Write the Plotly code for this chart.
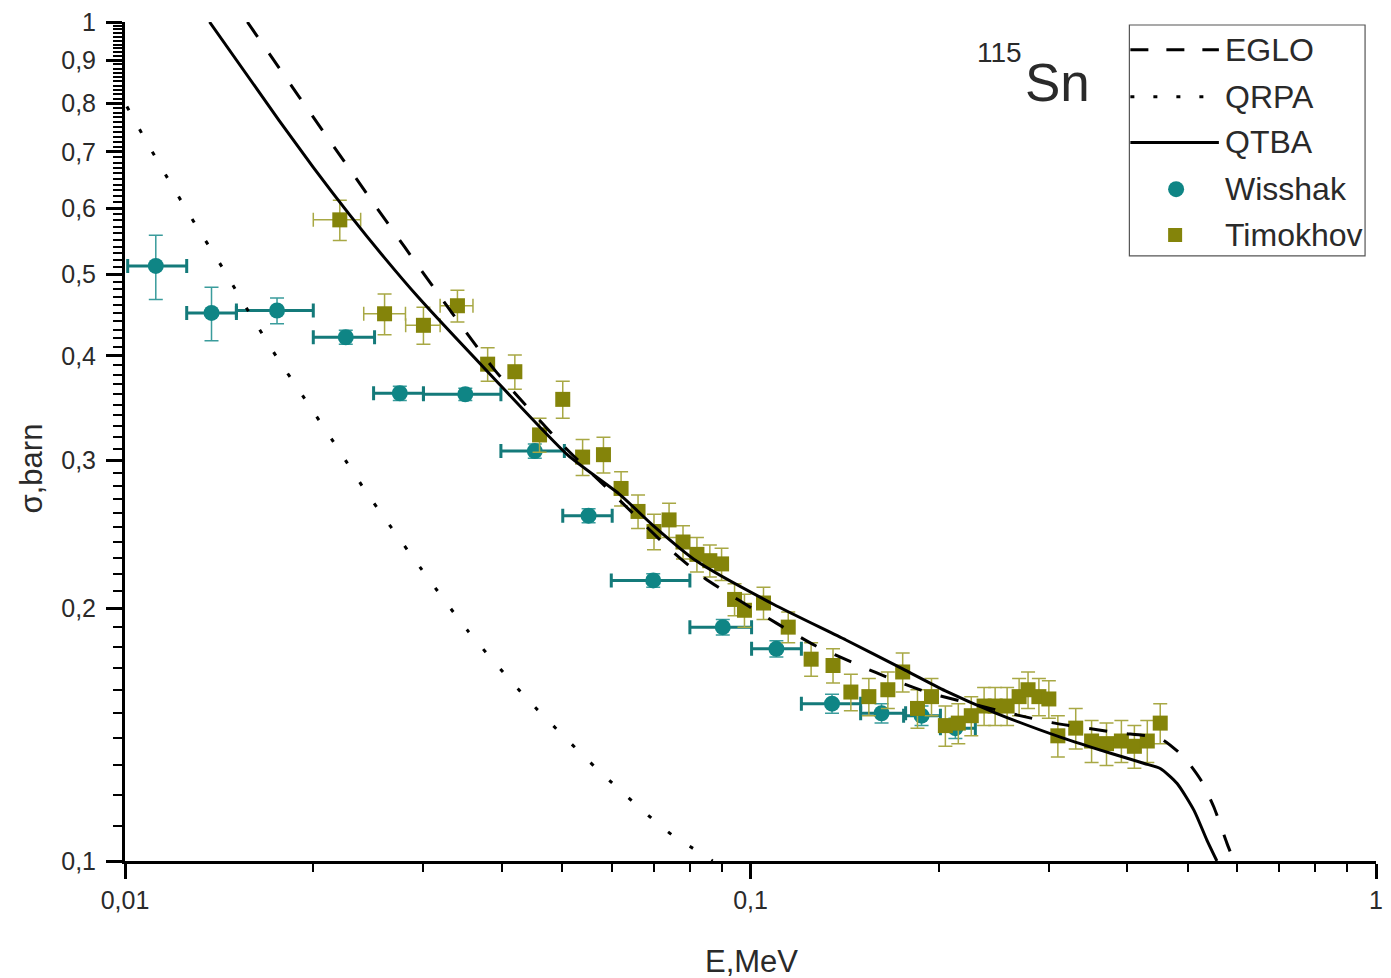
import plotly.graph_objects as go

# ---- Wisshak (energy bins with cross sections) ----
wis_E = [0.0112, 0.01375, 0.0175, 0.02254, 0.0275, 0.0350, 0.0452, 0.0551,
         0.0699, 0.0903, 0.110, 0.135, 0.162, 0.1877, 0.2126]
wis_E_lo = [0.0101, 0.01255, 0.01507, 0.0200, 0.02497, 0.0300, 0.0399, 0.0501,
            0.0599, 0.0800, 0.1004, 0.1206, 0.150, 0.1757, 0.2012]
wis_E_hi = [0.01255, 0.01507, 0.0200, 0.02506, 0.0300, 0.0399, 0.0504, 0.0601,
            0.0800, 0.1004, 0.1206, 0.150, 0.177, 0.2012, 0.2288]
wis_sig = [0.512, 0.450, 0.453, 0.421, 0.361, 0.360, 0.308, 0.258,
           0.216, 0.190, 0.179, 0.154, 0.150, 0.149, 0.144]
wis_err = [0.045, 0.033, 0.016, 0.008, 0.007, 0.006, 0.006, 0.005,
           0.004, 0.004, 0.004, 0.004, 0.004, 0.004, 0.004]

# ---- Timokhov ----
tim_E = [0.02205, 0.0260, 0.0300, 0.0340, 0.0380, 0.0420, 0.0501, 0.0460,
         0.0539, 0.0582, 0.0621, 0.0661, 0.0701, 0.0741, 0.0780, 0.0821,
         0.0861, 0.0899, 0.0943, 0.0978, 0.1049, 0.1149, 0.125, 0.1355,
         0.1447, 0.1546, 0.1658, 0.1751, 0.1849, 0.1947, 0.2049, 0.2149,
         0.2254, 0.2363, 0.2461, 0.2572, 0.2688, 0.2778, 0.2891, 0.2999,
         0.3100, 0.3311, 0.3510, 0.3708, 0.3917, 0.4109, 0.4309, 0.4519]
tim_sig = [0.581, 0.449, 0.435, 0.459, 0.391, 0.383, 0.355, 0.322,
           0.303, 0.305, 0.278, 0.261, 0.247, 0.255, 0.240, 0.232,
           0.228, 0.226, 0.205, 0.199, 0.203, 0.190, 0.174, 0.171,
           0.159, 0.157, 0.160, 0.168, 0.152, 0.157, 0.145, 0.146,
           0.149, 0.153, 0.153, 0.153, 0.157, 0.160, 0.157, 0.156,
           0.141, 0.144, 0.139, 0.138, 0.139, 0.137, 0.139, 0.146]
tim_err = [0.032, 0.025, 0.022, 0.020, 0.018, 0.018, 0.018, 0.015,
           0.015, 0.015, 0.013, 0.012, 0.012, 0.012, 0.011, 0.011,
           0.010, 0.010, 0.009, 0.009, 0.009, 0.008, 0.008, 0.008,
           0.008, 0.008, 0.008, 0.009, 0.008, 0.008, 0.008, 0.008,
           0.008, 0.008, 0.008, 0.008, 0.008, 0.008, 0.008, 0.008,
           0.008, 0.008, 0.008, 0.008, 0.008, 0.008, 0.008, 0.008]
tim_Eerr_plus = [0.00176, 0.00208, 0.0019, 0.0020] + [0.0] * 44
tim_Eerr_minus = [0.00205, 0.00192, 0.0019, 0.0021] + [0.0] * 44

# ---- model curves ----
eglo_E = [0.01569, 0.01897, 0.02515, 0.03133, 0.03904, 0.0501, 0.0612, 0.0741,
          0.0845, 0.1100, 0.1273, 0.1474, 0.1707, 0.1926, 0.2262, 0.2619,
          0.3032, 0.3861, 0.4519, 0.4933, 0.5251, 0.5507, 0.5774, 0.5927]
eglo_sig = [1.0, 0.815, 0.6034, 0.4797, 0.3844, 0.3131, 0.271, 0.2358,
            0.2173, 0.1921, 0.1804, 0.1717, 0.164, 0.1587, 0.1539, 0.1498,
            0.1462, 0.1422, 0.1400, 0.1329, 0.1248, 0.1159, 0.1051, 0.100]

qrpa_E = [0.01007, 0.01064, 0.0117, 0.01292, 0.01432, 0.0158, 0.0175, 0.01954,
          0.02181, 0.02434, 0.02901, 0.03536, 0.04405, 0.05692, 0.0701, 0.0757,
          0.0827, 0.0870]
qrpa_sig = [0.793, 0.7364, 0.6513, 0.5759, 0.5093, 0.4503, 0.3982, 0.3523,
            0.3115, 0.2748, 0.2288, 0.1879, 0.1557, 0.1286, 0.1118, 0.1068,
            0.1025, 0.100]

qtba_E = [0.01365, 0.01764, 0.0200, 0.02287, 0.0260, 0.02944, 0.0380, 0.0510,
          0.0619, 0.0696, 0.0821, 0.1088, 0.1421, 0.1751, 0.2049, 0.2461,
          0.3145, 0.3776, 0.4262, 0.4519, 0.4809, 0.5117, 0.5366, 0.5567]
qtba_sig = [1.0, 0.763, 0.671, 0.589, 0.5234, 0.4697, 0.383, 0.3048,
            0.2732, 0.2518, 0.2276, 0.2023, 0.1834, 0.1694, 0.1595, 0.1502,
            0.1403, 0.1343, 0.1307, 0.1289, 0.1237, 0.1149, 0.1059, 0.100]

# ---- axis ticks ----
x_major = [0.01, 0.1, 1]
x_major_text = ["0,01", "0,1", "1"]
x_minor = [0.02, 0.03, 0.04, 0.05, 0.06, 0.07, 0.08, 0.09,
           0.2, 0.3, 0.4, 0.5, 0.6, 0.7, 0.8, 0.9]
y_major = [0.1, 0.2, 0.3, 0.4, 0.5, 0.6, 0.7, 0.8, 0.9, 1.0]
y_major_text = ["0,1", "0,2", "0,3", "0,4", "0,5", "0,6", "0,7", "0,8", "0,9", "1"]
y_minor = [round(0.1 + 0.01 * i, 2) for i in range(1, 90) if i % 10 != 0]

TEAL = "#0f8585"
OLIVE = "#84840a"
FONT = "Liberation Sans, Arial, sans-serif"
TXT = "#2a2a2a"

fig = go.Figure()

fig.add_trace(go.Scatter(
    x=wis_E, y=wis_sig, mode="markers", name="Wisshak",
    marker=dict(symbol="circle", size=16, color=TEAL),
    error_x=dict(type="data", symmetric=False,
                 array=[h - e for h, e in zip(wis_E_hi, wis_E)],
                 arrayminus=[e - l for e, l in zip(wis_E, wis_E_lo)],
                 color="#147a7a", thickness=3, width=7),
    error_y=dict(type="data", array=wis_err, color="#3a9c9c", thickness=1.5, width=7),
))

fig.add_trace(go.Scatter(
    x=tim_E, y=tim_sig, mode="markers", name="Timokhov",
    marker=dict(symbol="square", size=15, color=OLIVE),
    error_x=dict(type="data", symmetric=False, array=tim_Eerr_plus,
                 arrayminus=tim_Eerr_minus, color="#a8a844", thickness=1.5, width=7),
    error_y=dict(type="data", array=tim_err, color="#a8a844", thickness=1.5, width=7),
))

fig.add_trace(go.Scatter(x=qrpa_E, y=qrpa_sig, mode="lines", name="QRPA",
                         line=dict(color="black", width=3, dash="4px,22px",
                                   shape="spline", smoothing=0.6)))
fig.add_trace(go.Scatter(x=eglo_E, y=eglo_sig, mode="lines", name="EGLO",
                         line=dict(color="black", width=3, dash="18px,20px",
                                   shape="spline", smoothing=0.6)))
fig.add_trace(go.Scatter(x=qtba_E, y=qtba_sig, mode="lines", name="QTBA",
                         line=dict(color="black", width=3,
                                   shape="spline", smoothing=0.6)))

W, H = 1391, 978
L, R, T, B = 125, 8, 18, 117
PW, PH = W - L - R, H - T - B


def px(xp):
    return (xp - L) / PW


def py(yp):
    return (H - B - yp) / PH


shapes = []
annotations = []

# legend frame
shapes.append(dict(type="rect", xref="paper", yref="paper",
                   x0=px(1135), x1=px(1372), y0=py(253), y1=py(21),
                   line=dict(color="#555", width=1.2), fillcolor="rgba(0,0,0,0)"))
leg_line_rows = [("EGLO", 46, "18px,18px"), ("QRPA", 93, "4px,19px"), ("QTBA", 139, "solid")]
for label, yy, dash in leg_line_rows:
    shapes.append(dict(type="line", xref="paper", yref="paper",
                       x0=px(1136), x1=px(1225), y0=py(yy), y1=py(yy),
                       line=dict(color="black", width=3, dash=dash)))
shapes.append(dict(type="circle", xref="paper", yref="paper",
                   xsizemode="pixel", ysizemode="pixel",
                   xanchor=px(1182), yanchor=py(186),
                   x0=-8, x1=8, y0=-8, y1=8,
                   fillcolor=TEAL, line=dict(width=0)))
shapes.append(dict(type="rect", xref="paper", yref="paper",
                   xsizemode="pixel", ysizemode="pixel",
                   xanchor=px(1181), yanchor=py(232),
                   x0=-7, x1=7, y0=-7, y1=7,
                   fillcolor=OLIVE, line=dict(width=0)))
for label, yy in [("EGLO", 46), ("QRPA", 93), ("QTBA", 139), ("Wisshak", 186), ("Timokhov", 232)]:
    annotations.append(dict(text=label, xref="paper", yref="paper",
                            x=px(1229), y=py(yy), xanchor="left", yanchor="middle",
                            showarrow=False, font=dict(family=FONT, size=32, color=TXT)))

# nucleus label
annotations.append(dict(text="115", xref="paper", yref="paper", x=px(980), y=py(49),
                        xanchor="left", yanchor="middle", showarrow=False,
                        font=dict(family=FONT, size=28, color=TXT)))
annotations.append(dict(text="Sn", xref="paper", yref="paper", x=px(1028), y=py(79),
                        xanchor="left", yanchor="middle", showarrow=False,
                        font=dict(family=FONT, size=53, color=TXT)))

# axis titles
annotations.append(dict(text="E,MeV", xref="paper", yref="paper", x=px(755), y=py(962),
                        xanchor="center", yanchor="middle", showarrow=False,
                        font=dict(family=FONT, size=31, color=TXT)))
annotations.append(dict(text="σ,barn", xref="paper", yref="paper", x=px(31), y=py(467),
                        xanchor="center", yanchor="middle", showarrow=False, textangle=-90,
                        font=dict(family=FONT, size=31, color=TXT)))

fig.update_layout(
    width=W, height=H,
    margin=dict(l=L, r=R, t=T, b=B),
    paper_bgcolor="white", plot_bgcolor="white",
    showlegend=False,
    font=dict(family=FONT, color=TXT),
    shapes=shapes, annotations=annotations,
)

fig.update_xaxes(
    type="log", range=[-2, 0], showgrid=False, zeroline=False,
    showline=True, linecolor="black", linewidth=3,
    ticks="outside", ticklen=15, tickwidth=2.5, tickcolor="black",
    tickmode="array", tickvals=x_major, ticktext=x_major_text,
    tickfont=dict(family=FONT, size=25, color=TXT), ticklabelstandoff=0,
    minor=dict(tickmode="array", tickvals=x_minor, ticks="outside",
               ticklen=8, tickwidth=2, tickcolor="black", showgrid=False),
)
fig.update_yaxes(
    type="log", range=[-1, 0], showgrid=False, zeroline=False,
    showline=True, linecolor="black", linewidth=3,
    ticks="outside", ticklen=16, tickwidth=2.5, tickcolor="black",
    tickmode="array", tickvals=y_major, ticktext=y_major_text,
    tickfont=dict(family=FONT, size=25, color=TXT), ticklabelstandoff=5,
    minor=dict(tickmode="array", tickvals=y_minor, ticks="outside",
               ticklen=9, tickwidth=2, tickcolor="black", showgrid=False),
)

fig.write_html("out.html")
